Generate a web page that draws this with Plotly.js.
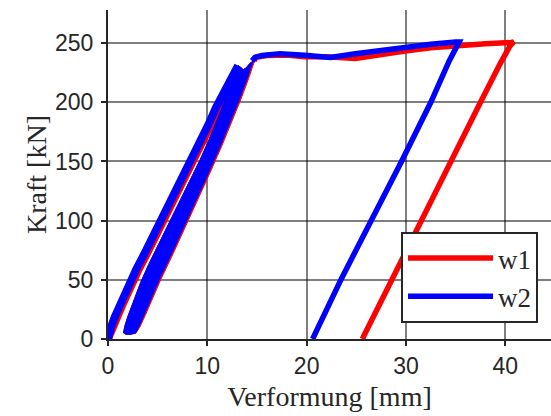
<!DOCTYPE html>
<html>
<head>
<meta charset="utf-8">
<script src="https://cdn.plot.ly/plotly-3.0.1.min.js"></script>
<style>html,body{margin:0;padding:0;background:#fff;}#chart{width:551px;height:416px;}</style>
</head>
<body>
<div id="chart"></div>
<script>
// ---- data ----
var xTicks = [0, 10, 20, 30, 40];
var yTicks = [0, 50, 100, 150, 200, 250];

// w1 (red): first loading, cyclic band, last reload/plateau/unloading
var w1InitX = [0, 0.3, 0.6, 0.95, 1.4, 1.9, 2.45, 3.1, 3.85, 4.7, 5.55, 6.55, 7.55, 8.5, 9.45, 10.35, 11.15, 11.95, 12.6, 13.2];
var w1InitY = [0, 5, 11, 19, 28, 38, 48, 59, 71, 85, 99, 116, 133, 149, 165, 181, 196, 210, 222, 230];
var w1BandX = [1.55, 1.7, 2.0, 2.4, 2.85, 3.3, 4.1, 5.1, 6.2, 7.25, 8.3, 9.25, 10.1, 10.85, 11.5, 12.1, 12.6, 13.1,
               13.35, 13.6, 13.9, 14.3, 14.75,
               14.5, 14.15, 13.35, 12.45, 11.45, 10.35, 9.05, 7.85, 6.55, 5.3, 4.45, 3.75, 3.2, 2.8, 2.3, 1.75];
var w1BandY = [5, 11, 19, 28, 38, 48, 63, 80, 98, 116, 134, 151, 167, 182, 196, 210, 221, 231,
               229.5, 227.5, 229, 233, 235,
               228, 220, 202, 183, 163, 142, 118, 95, 72, 50, 33, 20, 10, 5, 4, 4];
var w1MainX = [14.7, 14.9, 16, 18, 19.8, 22, 24.9, 27, 29.9, 32.5, 35.3, 38, 40.6, 40.85, 40.5, 39.5, 37.5, 34.5, 31.6, 28.7, 25.6];
var w1MainY = [235, 238, 239.5, 240, 238.5, 238.5, 237, 240, 243.3, 246, 248, 249.5, 250.5, 251, 248, 233, 200, 150, 100, 51, 0];

// w2 (blue)
var w2InitX = [0, 0.12, 0.35, 0.7, 1.15, 1.65, 2.2, 2.85, 3.6, 4.45, 5.3, 6.3, 7.3, 8.25, 9.2, 10.1, 10.9, 11.7, 12.4, 13.1];
var w2InitY = [0, 5, 11, 19, 28, 38, 48, 59, 71, 85, 99, 116, 133, 149, 165, 181, 196, 210, 222, 231];
var w2BandX = [1.55, 1.7, 2.0, 2.4, 2.85, 3.3, 4.1, 5.1, 6.2, 7.25, 8.3, 9.25, 10.1, 10.85, 11.5, 12.1, 12.6, 13.1,
               13.35, 13.6, 13.9, 14.3, 14.6,
               14.35, 14.0, 13.2, 12.3, 11.3, 10.2, 8.9, 7.7, 6.4, 5.15, 4.3, 3.6, 3.1, 2.8, 2.3, 1.75];
var w2BandY = [5, 11, 19, 28, 38, 48, 63, 80, 98, 116, 134, 151, 167, 182, 196, 210, 221, 231,
               229.5, 227.5, 229, 233, 235,
               228, 220, 202, 183, 163, 142, 118, 95, 72, 50, 33, 20, 10, 5, 4, 4];
var w2MainX = [14.5, 14.8, 15.5, 17.3, 19.8, 21, 22.4, 24.9, 27, 29.9, 32.5, 35.0, 35.35, 34.35, 32.5, 29.55, 26.5, 23.5, 20.6];
var w2MainY = [235, 238, 239.5, 241, 239.7, 239, 237.8, 241, 243.5, 246.6, 249, 251, 251, 235, 200, 150, 100, 51, 0];

var RED = '#ff0000', BLUE = '#0000ff', INK = '#262626';
var SERIF = 'Liberation Serif, Times New Roman, serif';

var traces = [
  {x: w1InitX, y: w1InitY, mode: 'lines', line: {color: RED, width: 8}, showlegend: false, hoverinfo: 'skip'},
  {x: w1BandX, y: w1BandY, mode: 'lines', fill: 'toself', fillcolor: RED, line: {color: RED, width: 1}, showlegend: false, hoverinfo: 'skip'},
  {x: w1MainX, y: w1MainY, mode: 'lines', name: 'w1', line: {color: RED, width: 5.5}},
  {x: w2InitX, y: w2InitY, mode: 'lines', line: {color: BLUE, width: 8}, showlegend: false, hoverinfo: 'skip'},
  {x: w2BandX, y: w2BandY, mode: 'lines', fill: 'toself', fillcolor: BLUE, line: {color: BLUE, width: 1}, showlegend: false, hoverinfo: 'skip'},
  {x: w2MainX, y: w2MainY, mode: 'lines', name: 'w2', line: {color: BLUE, width: 5.5}}
];

var axisCommon = {
  showline: true, linecolor: INK, linewidth: 2,
  ticks: 'outside', ticklen: 5, tickwidth: 2, tickcolor: INK,
  showgrid: true, gridcolor: 'rgba(0,0,0,0.5)', gridwidth: 2,
  zeroline: false,
  tickfont: {family: 'Liberation Sans, Arial, sans-serif', size: 23, color: INK}
};

var layout = {
  width: 551, height: 416,
  margin: {l: 108, r: 0, t: 10, b: 77},
  paper_bgcolor: '#fff', plot_bgcolor: '#fff',
  xaxis: Object.assign({}, axisCommon, {
    range: [0, 44.6], tickvals: xTicks, ticktext: xTicks.map(String),
    title: {text: 'Verformung [mm]', standoff: 9, font: {family: SERIF, size: 28, color: INK}}
  }),
  yaxis: Object.assign({}, axisCommon, {
    range: [0, 278], tickvals: yTicks, ticktext: yTicks.map(String),
    ticklabelstandoff: 3,
    title: {text: 'Kraft [kN]', standoff: 0, font: {family: SERIF, size: 28, color: INK}}
  }),
  legend: {
    x: 0.6614, y: 0.325, xanchor: 'left', yanchor: 'top',
    bordercolor: INK, borderwidth: 2, bgcolor: '#fff',
    font: {family: SERIF, size: 27, color: INK},
    itemwidth: 85
  },
  showlegend: true
};

Plotly.newPlot('chart', traces, layout, {displayModeBar: false, staticPlot: true});
</script>
</body>
</html>
